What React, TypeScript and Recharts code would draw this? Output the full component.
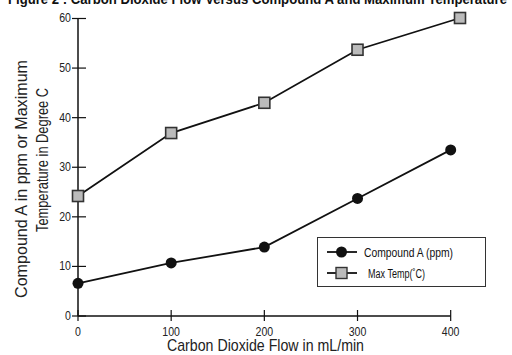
import { LineChart, Line, XAxis, YAxis, Legend, ReferenceLine } from 'recharts'

const FONT = "'Liberation Sans', Arial, sans-serif"

// flow (mL/min) per point
const flowA = [0, 100, 200, 300, 400]
const flowTemp = [0, 100, 200, 300, 410]
const compoundA = [6.6, 10.7, 13.9, 23.7, 33.5]
const maxTemp = [24.2, 36.9, 43.0, 53.7, 60.1]
const xTicks = [0, 100, 200, 300, 400]
const yTicks = [0, 10, 20, 30, 40, 50, 60]

const dataA = flowA.map((x, i) => ({ x, value: compoundA[i] }))
const dataTemp = flowTemp.map((x, i) => ({ x, value: maxTemp[i] }))

function YTick({ x, y, payload }: any) {
  return (
    <g>
      <line x1={x - 6} x2={x + 8} y1={y} y2={y} stroke="#111" strokeWidth={1.2} />
      <text x={x - 7} y={y} dy={4} textAnchor="end" fill="#222" fontSize={12} fontFamily={FONT}
        transform={`translate(${(x - 7) * 0.12},0) scale(0.88,1)`}>
        {payload.value}
      </text>
    </g>
  )
}

function XTick({ x, y, payload }: any) {
  return (
    <g>
      <line x1={x} x2={x} y1={y - 6} y2={y + 5} stroke="#111" strokeWidth={1.2} />
      <text x={x} y={y + 20} textAnchor="middle" fill="#222" fontSize={12} fontFamily={FONT}
        transform={`translate(${x * 0.12},0) scale(0.88,1)`}>
        {payload.value}
      </text>
    </g>
  )
}

function XLabel() {
  return (
    <text x={167} y={351} fontSize={17} fontFamily={FONT} fill="#222" textLength={197} lengthAdjust="spacingAndGlyphs">
      Carbon Dioxide Flow in mL/min
    </text>
  )
}

function SquareDot({ cx, cy, index }: any) {
  return (
    <rect
      key={`sq-${index}`}
      x={cx - 5.5}
      y={cy - 5.5}
      width={11}
      height={11}
      fill="#bbbbbb"
      stroke="#333"
      strokeWidth={1.6}
    />
  )
}

const legendTextWidth: Record<string, number> = { square: 57, circle: 89 }

function LegendBox({ payload }: any) {
  return (
    <svg width={170} height={51} style={{ display: 'block' }}>
      <rect x={0.5} y={0.5} width={168} height={49} fill="#fff" stroke="#333" strokeWidth={1} />
      {(payload || []).map((entry: any, i: number) => {
        const cy = 15 + i * 21
        const sq = entry.type === 'square'
        return (
          <g key={entry.value}>
            <line x1={10} x2={40} y1={cy} y2={cy} stroke="#111" strokeWidth={1.8} />
            {sq ? (
              <rect x={19} y={cy - 5.5} width={11} height={11} fill="#bbbbbb" stroke="#333" strokeWidth={1.4} />
            ) : (
              <circle cx={24.5} cy={cy} r={5.5} fill="#111" />
            )}
            <text
              x={sq ? 51 : 47}
              y={cy + 4.5}
              fontSize={12.5}
              fontFamily={FONT}
              fill="#111"
              textLength={legendTextWidth[entry.type]}
              lengthAdjust="spacingAndGlyphs"
            >
              {entry.value}
            </text>
          </g>
        )
      })}
    </svg>
  )
}

export default function App() {
  return (
    <div style={{ position: 'absolute', left: 0, top: 0, width: 512, height: 355, background: '#fff' }}>
      <LineChart width={512} height={355} margin={{ top: 18, right: 52, bottom: 0, left: 0 }}>
        <text x={8} y={4} fontSize={15} fontWeight="bold" fontFamily={FONT} fill="#111" textLength={499} lengthAdjust="spacingAndGlyphs">
          Figure 2 : Carbon Dioxide Flow Versus Compound A and Maximum Temperature
        </text>
        <text transform="translate(27,179) rotate(-90)" textAnchor="middle" fontSize={17} fontFamily={FONT} fill="#222"
          textLength={238} lengthAdjust="spacingAndGlyphs">
          Compound A in ppm or Maximum
        </text>
        <text transform="translate(48,160) rotate(-90)" textAnchor="middle" fontSize={17} fontFamily={FONT} fill="#222"
          textLength={144} lengthAdjust="spacingAndGlyphs">
          Temperature in Degree C
        </text>
        <XAxis
          type="number"
          dataKey="x"
          domain={[0, 410]}
          ticks={xTicks}
          height={39}
          axisLine={false}
          tickLine={false}
          tickSize={0}
          tickMargin={0}
          tick={<XTick />}
          allowDuplicatedCategory={false}
          label={<XLabel />}
        />
        <YAxis
          type="number"
          domain={[0, 60]}
          ticks={yTicks}
          width={78}
          axisLine={{ stroke: '#111', strokeWidth: 1.5 }}
          tickLine={false}
          tickSize={0}
          tickMargin={0}
          tick={<YTick />}
        />
        <ReferenceLine
          segment={[{ x: 0, y: 0 }, { x: 400, y: 0 }]}
          stroke="#111"
          strokeWidth={1.5}
        />
        <Legend
          layout="vertical"
          align="center"
          verticalAlign="middle"
          content={<LegendBox />}
          wrapperStyle={{ position: 'absolute', left: 317, top: 237, width: 170, height: 51 }}
        />
        <Line
          data={dataA}
          dataKey="value"
          name="Compound A (ppm)"
          legendType="circle"
          stroke="#111"
          strokeWidth={1.8}
          dot={{ r: 5.5, fill: '#111', stroke: '#111', strokeWidth: 0 }}
          isAnimationActive={false}
        />
        <Line
          data={dataTemp}
          dataKey="value"
          name="Max Temp(˚C)"
          legendType="square"
          stroke="#111"
          strokeWidth={1.8}
          dot={<SquareDot />}
          isAnimationActive={false}
        />
      </LineChart>
    </div>
  )
}
